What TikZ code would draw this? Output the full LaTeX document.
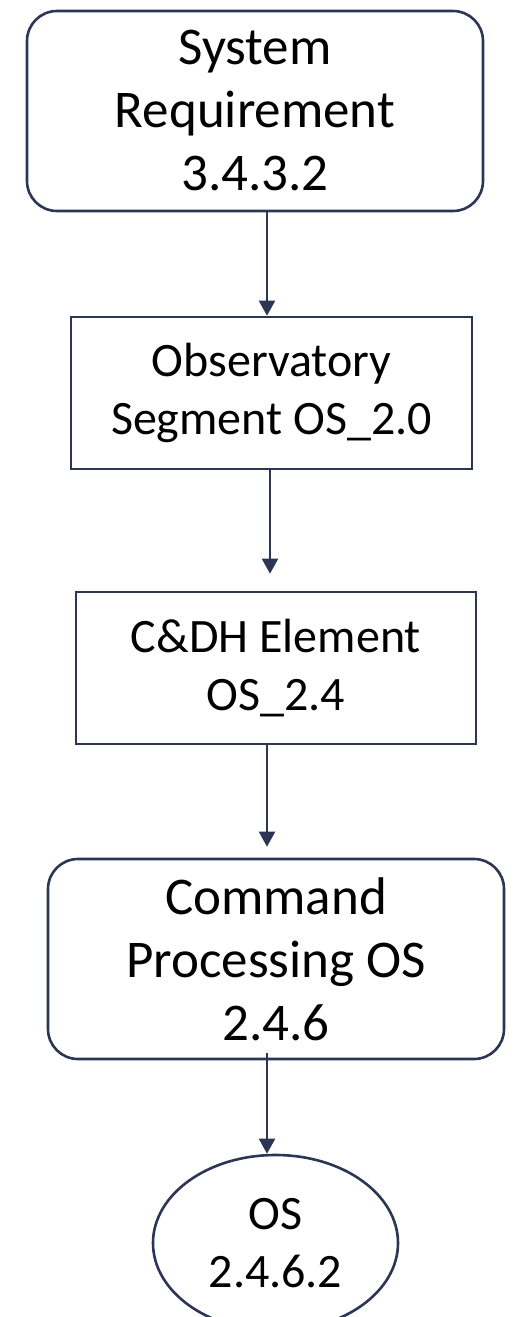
\documentclass[tikz,border=0pt]{standalone}
\usepackage{fontspec}
\setmainfont{Carlito}
\usetikzlibrary{arrows.meta,shapes.geometric}
\definecolor{navy}{RGB}{44,54,84}
\tikzset{
  bigtext/.style={font=\fontsize{53pt}{63pt}\selectfont},
  smalltext/.style={font=\fontsize{48pt}{57.5pt}\selectfont},
  roundbox/.style={draw=navy, line width=2.6pt, rounded corners=30pt, fill=white,
    minimum width=456pt, minimum height=200pt, inner sep=0pt, align=center, bigtext},
  squarebox/.style={draw=navy, line width=2.6pt, fill=white,
    minimum height=152pt, inner sep=0pt, align=center, smalltext},
  oval/.style={draw=navy, line width=2.6pt, ellipse, fill=white,
    minimum width=245pt, minimum height=176pt, inner sep=0pt, align=center, smalltext},
  flow/.style={draw=navy, line width=2.2pt, -{Triangle[width=16pt,length=15pt]}}
}
\begin{document}
\begin{tikzpicture}[x=1pt,y=-1pt]
  \clip (0,0) rectangle (514,1317);
  \fill[white] (0,0) rectangle (514,1317);

  \node[roundbox] (req) at (255,111) {System\\Requirement\\3.4.3.2};
  \node[squarebox, minimum width=401pt] (obs) at (271.5,393) {Observatory\\Segment OS\_2.0};
  \node[squarebox, minimum width=400pt] (cdh) at (276,668) {C\&DH Element\\OS\_2.4};
  \node[roundbox] (cmd) at (276,959) {Command\\Processing OS\\2.4.6};
  \node[oval] (leaf) at (275.5,1243) {OS\\2.4.6.2};

  \draw[flow] ([xshift=12pt]req.south) -- ([xshift=12pt]req.south |- obs.north);
  \draw[flow] ([xshift=-1.5pt]obs.south) -- ([xshift=-1.5pt,yshift=17pt]obs.south |- cdh.north);
  \draw[flow] ([xshift=-9pt]cdh.south) -- ([xshift=-9pt,yshift=11pt]cdh.south |- cmd.north);
  \draw[flow] ([xshift=-9pt,yshift=7pt]cmd.south) -- ([xshift=-9pt]cmd.south |- leaf.north);
\end{tikzpicture}
\end{document}
